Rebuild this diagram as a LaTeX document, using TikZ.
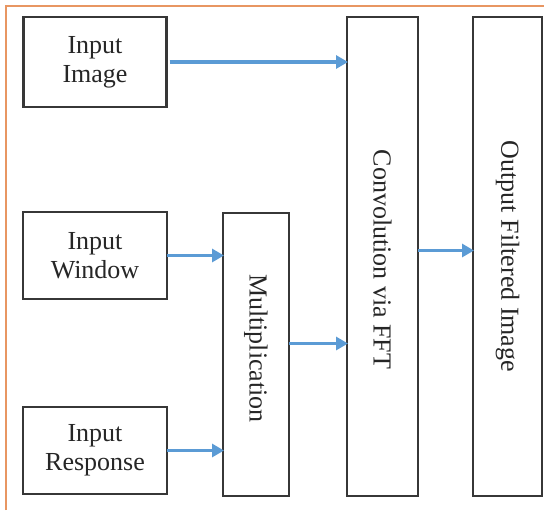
\documentclass[tikz,border=0pt]{standalone}
\usepackage{fontspec}
\setmainfont{Liberation Serif}
\usetikzlibrary{arrows.meta}
\definecolor{framecol}{RGB}{232,150,98}
\definecolor{edgecol}{RGB}{55,55,55}
\definecolor{flowcol}{RGB}{91,155,213}
\begin{document}
\begin{tikzpicture}[x=1pt,y=-1pt,
  box/.style={draw=edgecol, line width=2.2pt, fill=white, inner sep=0pt, outer sep=0pt},
  txt/.style={font=\fontsize{26}{29}\selectfont, align=center, text=black!85, inner sep=0pt},
  flow/.style={draw=flowcol, line width=3.5pt, -{Triangle[length=12pt,width=13pt]}, shorten >=-1pt}]
  \useasboundingbox[fill=white] (0,0) rectangle (544,512);
  % frame lines along top and left
  \draw[framecol, line width=2.5pt] (6,510) -- (6,6) -- (544,6);

  % input boxes
  \node[box, minimum width=143pt, minimum height=90pt] (img) at (95,62) {};
  \node[txt] at (img.center) {Input\\Image};
  \node[box, minimum width=144pt, minimum height=87pt] (win) at (95,255.5) {};
  \node[txt] at (win.center) {Input\\Window};
  \node[box, minimum width=144pt, minimum height=87pt] (resp) at (95,450.5) {};
  \node[txt] at (resp.center) {Input\\Response};

  % processing columns
  \node[box, minimum width=66pt, minimum height=283pt] (mult) at (256,354.5) {};
  \node[txt, rotate=-90] at ([yshift=6pt]mult.center) {Multiplication};
  \node[box, minimum width=71pt, minimum height=479pt] (conv) at (382.5,256.5) {};
  \node[txt, rotate=-90] at ([yshift=-3pt]conv.center) {Convolution via FFT};
  \node[box, minimum width=69pt, minimum height=479pt] (out) at (507.5,256.5) {};
  \node[txt, rotate=-90] at (out.center) {Output Filtered Image};

  % connectors
  \draw[flow] ([xshift=3pt]img.east) -- (img.east -| conv.west);
  \draw[flow] (win.east) -- (win.east -| mult.west);
  \draw[flow] (resp.east) -- (resp.east -| mult.west);
  \coordinate (mo) at ([yshift=11pt]mult.east);
  \draw[flow] (mo) -- (mo -| conv.west);
  \coordinate (co) at ([yshift=6pt]conv.east);
  \draw[flow] (co) -- (co -| out.west);
\end{tikzpicture}
\end{document}
